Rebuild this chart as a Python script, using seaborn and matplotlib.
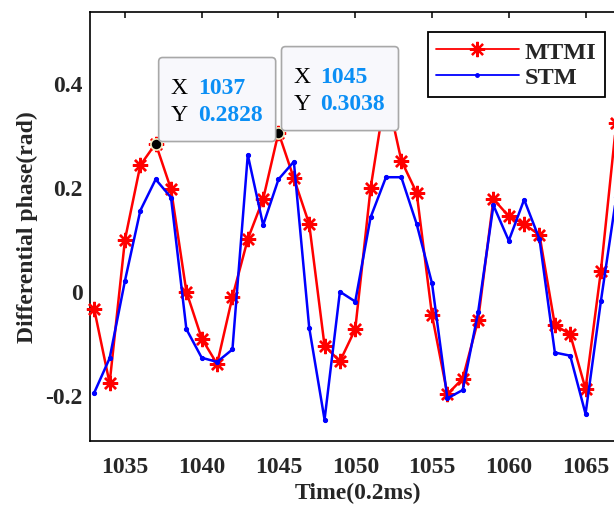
import numpy as np
import pandas as pd
import matplotlib
matplotlib.use("Agg")
import matplotlib.pyplot as plt
from matplotlib.patches import FancyBboxPatch
from matplotlib.lines import Line2D
import matplotlib.font_manager as fm
import seaborn as sns

# ---------------- data ----------------
time = list(range(1033, 1068))
mtmi = [-0.036, -0.178, 0.098, 0.241, 0.2828, 0.195, -0.002, -0.092, -0.141, -0.012,
        0.099, 0.176, 0.3038, 0.216, 0.128, -0.106, -0.136, -0.074, 0.197, 0.385,
        0.250, 0.188, -0.047, -0.199, -0.169, -0.057, 0.176, 0.143, 0.128, 0.107,
        -0.066, -0.084, -0.189, 0.038, 0.322]
stm = [-0.196, -0.130, 0.019, 0.154, 0.214, 0.179, -0.074, -0.129, -0.137, -0.113,
       0.261, 0.126, 0.214, 0.248, -0.071, -0.248, -0.002, -0.021, 0.141, 0.218,
       0.218, 0.128, 0.014, -0.207, -0.191, -0.042, 0.164, 0.096, 0.175, 0.099,
       -0.119, -0.125, -0.237, -0.020, 0.180]
series_names = ["MTMI", "STM"]
tip_x = [1037, 1045]
tip_y = [0.2828, 0.3038]
tip_val_labels = ["1037", "1045"]
tip_y_labels = ["0.2828", "0.3038"]
xticks = [1035, 1040, 1045, 1050, 1055, 1060, 1065]
yticks = [-0.2, 0, 0.2, 0.4]
ytick_labels = ["-0.2", "0", "0.2", "0.4"]

df = pd.DataFrame({"time": time * 2,
                   "value": mtmi + stm,
                   "series": ["MTMI"] * len(time) + ["STM"] * len(time)})

# ---------------- style ----------------
sns.set_style("white")
plt.rcParams["font.family"] = ["Liberation Serif", "DejaVu Serif"]
plt.rcParams["axes.unicode_minus"] = False
FS = 17

W, H = 614, 506
fig = plt.figure(figsize=(W / 100, H / 100), dpi=100)
ax_l, ax_r, ax_t, ax_b = 89.5, 627, 13, 442
ax = fig.add_axes([ax_l / W, 1 - ax_b / H, (ax_r - ax_l) / W, (ax_b - ax_t) / H])

red = "#FF0000"
blue = "#0000FF"
ast = (8, 2, 0)

sns.lineplot(data=df[df.series == "MTMI"], x="time", y="value", ax=ax, color=red,
             lw=1.8, marker=ast, markersize=11, markeredgewidth=1.7,
             markeredgecolor=red, markerfacecolor=red, clip_on=False, zorder=3,
             legend=False)
sns.lineplot(data=df[df.series == "STM"], x="time", y="value", ax=ax, color=blue,
             lw=1.8, marker=".", markersize=6, markeredgecolor=blue,
             clip_on=False, zorder=4, legend=False)

ax.set_xlim(1032.69, 1067.7)
ax.set_ylim(-0.289, 0.5356)
ax.set_xticks(xticks)
ax.set_xticklabels([str(t) for t in xticks])
ax.set_yticks(yticks)
ax.set_yticklabels(ytick_labels)

tick_fp = fm.FontProperties(family="Liberation Serif", weight="bold", size=FS)
for lab in ax.get_xticklabels() + ax.get_yticklabels():
    lab.set_fontproperties(tick_fp)
ax.tick_params(axis="both", direction="in", length=4, width=1.1, color="black",
               top=True, right=False)
ax.tick_params(axis="x", pad=11)
ax.tick_params(axis="y", pad=5)
for s in ["left", "bottom", "top"]:
    ax.spines[s].set_visible(True)
    ax.spines[s].set_linewidth(1.2)
    ax.spines[s].set_color("black")
ax.spines["right"].set_visible(False)

ax.set_xlabel("Time(0.2ms)", fontsize=FS, fontweight="bold", labelpad=3.5)
ax.set_ylabel("Differential phase(rad)", fontsize=FS, fontweight="bold", labelpad=5)

# legend
handles = [Line2D([], [], color=red, lw=1.3, marker=ast, markersize=11, markeredgewidth=1.6),
           Line2D([], [], color=blue, lw=1.3, marker=".", markersize=5)]
leg = ax.legend(handles, series_names, loc="upper right",
                bbox_to_anchor=((605 - ax_l) / (ax_r - ax_l), (ax_b - 33) / (ax_b - ax_t)),
                prop=dict(family="Liberation Serif", weight="bold", size=FS + 0.5),
                frameon=True, fancybox=False, framealpha=1, edgecolor="black",
                handlelength=3.4, handletextpad=0.25, borderpad=0.35,
                labelspacing=0.15, borderaxespad=0, markerscale=1.0)
leg.get_frame().set_linewidth(1.3)

# data tips
valcol = "#0B8FF5"
for xv, yv, lx, ly in zip(tip_x, tip_y, tip_val_labels, tip_y_labels):
    ax.plot([xv], [yv], marker="o", color="black", markersize=8,
            markeredgecolor="#F5EBC0", markeredgewidth=1.2, zorder=6, clip_on=False)
    bw, bh = 117, 84
    base = ax.transData.transform((xv, yv))
    x0 = base[0] + 3
    y0 = base[1] + 2
    fbox = FancyBboxPatch((x0, y0), bw, bh,
                          boxstyle="round,pad=0,rounding_size=4",
                          transform=None, facecolor="#F8F8FC", edgecolor="#A8A8A8",
                          lw=1.2, zorder=7)
    fig.patches.append(fbox)
    top = y0 + bh
    fig.text((x0 + 12) / W, (top - 30) / H, "X", fontsize=FS, color="black",
             va="center", ha="left", zorder=8)
    fig.text((x0 + 12) / W, (top - 57) / H, "Y", fontsize=FS, color="black",
             va="center", ha="left", zorder=8)
    fig.text((x0 + 39) / W, (top - 30) / H, lx, fontsize=FS, color=valcol,
             fontweight="bold", va="center", ha="left", zorder=8)
    fig.text((x0 + 39) / W, (top - 57) / H, ly, fontsize=FS, color=valcol,
             fontweight="bold", va="center", ha="left", zorder=8)

fig.savefig("out.png", dpi=100)
